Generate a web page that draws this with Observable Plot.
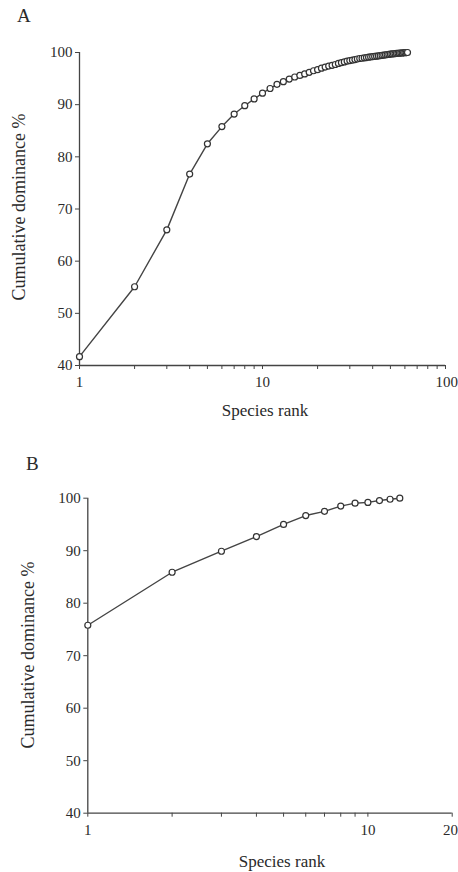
<!DOCTYPE html>
<html>
<head>
<meta charset="utf-8">
<script src="https://cdn.jsdelivr.net/npm/d3@7"></script>
<script src="https://cdn.jsdelivr.net/npm/@observablehq/plot@0.6"></script>
<style>
  html, body { margin: 0; padding: 0; background: #fff; }
  #wrap { position: relative; width: 458px; height: 872px; overflow: hidden; font-family: "Liberation Serif", "Times New Roman", serif; color: #2a2a2a; }
  .abs { position: absolute; white-space: nowrap; line-height: 1; }
  .panel-letter { font-size: 19px; }
  .xlab { font-size: 17px; transform: translate(-50%, -50%); }
  .ylab { font-size: 18px; transform: translate(-50%, -50%) rotate(-90deg); }
  svg { position: absolute; left: 0; }
</style>
</head>
<body>
<div id="wrap"></div>
<script>
// ---- Panel A data ----
const ranksA = [1,2,3,4,5,6,7,8,9,10,11,12,13,14,15,16,17,18,19,20,21,22,23,24,25,26,27,28,29,30,31,32,33,34,35,36,37,38,39,40,41,42,43,44,45,46,47,48,49,50,51,52,53,54,55,56,57,58,59,60,61,62];
const cumA = [41.7,55.1,66.0,76.7,82.5,85.8,88.2,89.8,91.1,92.2,
              93.1,93.9,94.4,94.9,95.3,95.6,95.9,96.2,96.5,96.7,
              97.0,97.2,97.4,97.55,97.7,97.9,98.05,98.2,98.35,98.45,
              98.55,98.65,98.75,98.85,98.9,98.97,99.03,99.1,99.15,99.2,
              99.25,99.3,99.35,99.4,99.45,99.5,99.55,99.6,99.65,99.7,
              99.73,99.76,99.79,99.82,99.85,99.87,99.9,99.92,99.94,99.96,99.98,100.0];
const xTicksA = [1,2,3,4,5,6,7,8,9,10,20,30,40,50,60,70,80,90,100];
const xLabelsA = [1,10,100];

// ---- Panel B data ----
const ranksB = [1,2,3,4,5,6,7,8,9,10,11,12,13];
const cumB = [75.8,85.9,89.9,92.7,95.0,96.7,97.5,98.5,99.05,99.2,99.55,99.8,100.0];
const xTicksB = [1,2,3,4,5,6,7,8,9,10,20];
const xLabelsB = [1,10,20];

// ---- shared ----
const yTicks = [40,50,60,70,80,90,100];
const yDomain = [40,100];
const labelX = "Species rank";
const labelY = "Cumulative dominance %";

const lineColor = "#444";
const textColor = "#2a2a2a";

function panel({ranks, values, xDomain, xTicks, xLabels, height, margins}) {
  const data = ranks.map((r, i) => ({rank: r, value: values[i]}));
  const xMax = xDomain[1];
  const innerLabels = xLabels.filter(d => d !== xMax);
  return Plot.plot({
    width: 458,
    height,
    marginTop: margins.top,
    marginBottom: margins.bottom,
    marginLeft: margins.left,
    marginRight: margins.right,
    style: {fontFamily: "'Liberation Serif', 'Times New Roman', serif", fontSize: "15px", color: textColor, background: "transparent"},
    x: {type: "log", domain: xDomain},
    y: {domain: yDomain},
    marks: [
      Plot.axisY({ticks: yTicks, tickSize: 4, tickPadding: 3, label: null, stroke: lineColor, fill: textColor, fontSize: 15}),
      Plot.axisX({ticks: xTicks, tickFormat: d => innerLabels.includes(d) ? String(d) : "", tickSize: 4, tickPadding: 7, label: null, stroke: lineColor, fill: textColor, fontSize: 15}),
      // last x label kept inside the page edge
      Plot.axisX({ticks: [xMax], tickFormat: d => String(d), tickSize: 0, tickPadding: 11, textAnchor: "end", dx: margins.right - 0.5, label: null, fill: textColor, fontSize: 15}),
      Plot.ruleX([xDomain[0]], {stroke: lineColor, strokeWidth: 1.3}),
      Plot.ruleY([yDomain[0]], {stroke: lineColor, strokeWidth: 1.3}),
      Plot.line(data, {x: "rank", y: "value", stroke: lineColor, strokeWidth: 1.4}),
      Plot.dot(data, {x: "rank", y: "value", r: 3, stroke: "#333", strokeWidth: 1.2, fill: "white"})
    ]
  });
}

const wrap = document.getElementById("wrap");

const svgA = panel({ranks: ranksA, values: cumA, xDomain: [1,100], xTicks: xTicksA, xLabels: xLabelsA,
  height: 420, margins: {top: 52, bottom: 55, left: 79, right: 13}});
svgA.style.top = "0px";
wrap.appendChild(svgA);

const svgB = panel({ranks: ranksB, values: cumB, xDomain: [1,20], xTicks: xTicksB, xLabels: xLabelsB,
  height: 432, margins: {top: 57.7, bottom: 59.3, left: 87.3, right: 6.3}});
svgB.style.top = "440px";
wrap.appendChild(svgB);

function addText(cls, text, left, top) {
  const d = document.createElement("div");
  d.className = "abs " + cls;
  d.textContent = text;
  d.style.left = left + "px";
  d.style.top = top + "px";
  wrap.appendChild(d);
}
addText("panel-letter", "A", 17, 6);
addText("panel-letter", "B", 26, 454);
addText("xlab", labelX, 265, 410);
addText("xlab", labelX, 282, 861);
addText("ylab", labelY, 19, 207);
addText("ylab", labelY, 28, 655);
</script>
</body>
</html>
